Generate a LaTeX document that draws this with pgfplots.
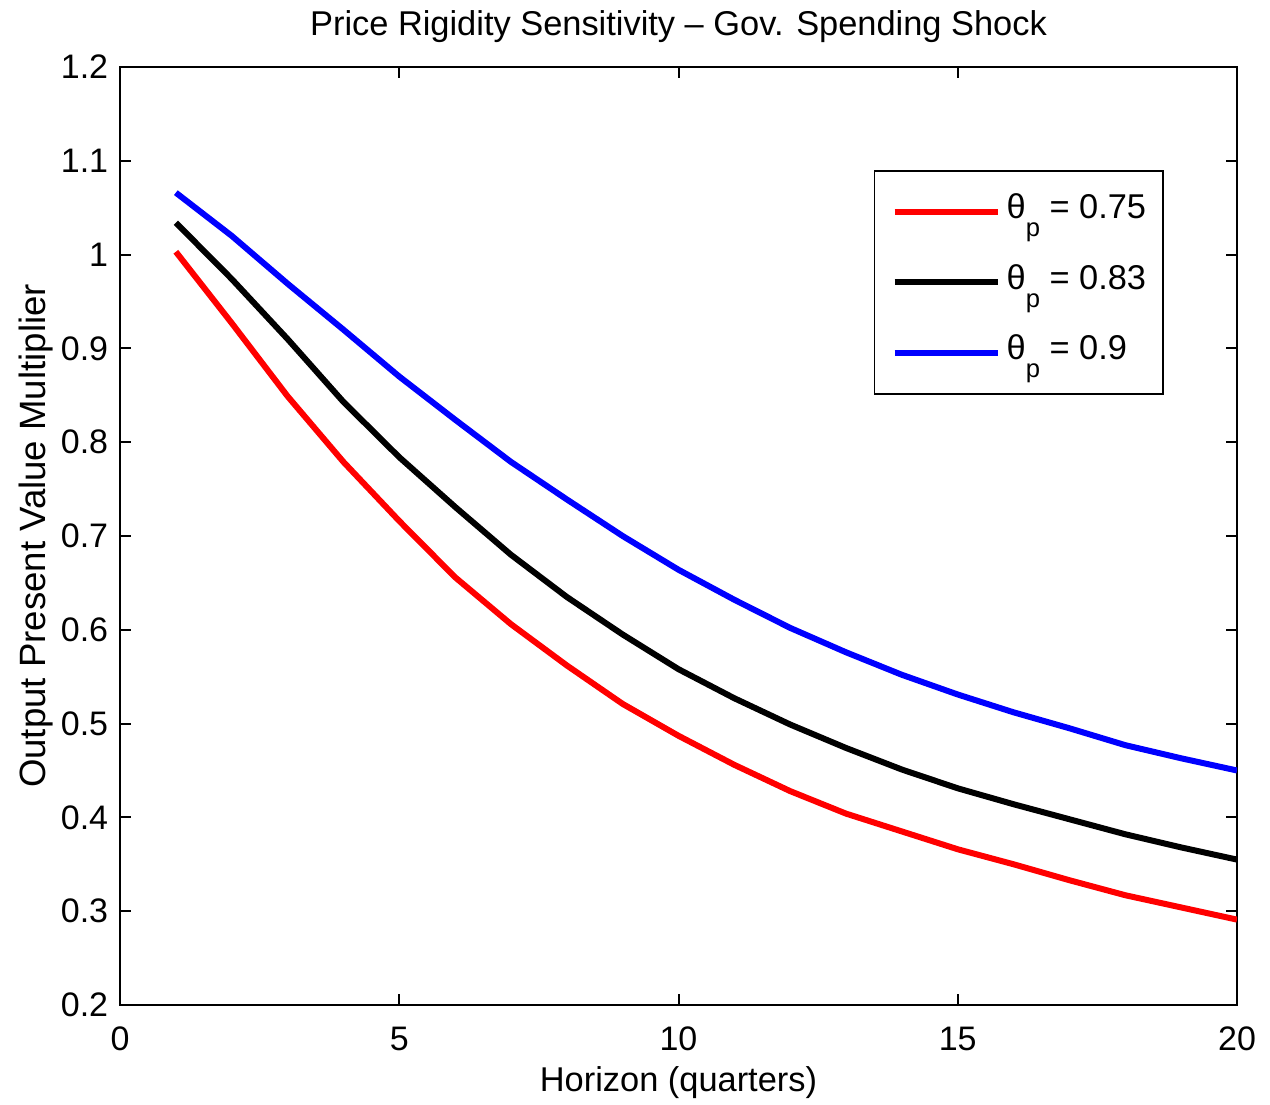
\documentclass[border=0pt]{standalone}
\usepackage{fontspec}
\setmainfont{Liberation Sans}
\usepackage{pgfplots}
\pgfplotsset{compat=1.18}
\usetikzlibrary{calc}

% output present value multiplier by horizon, one series per Calvo parameter
\pgfplotstableread{
h    low    mid    high
1    1.003  1.034  1.066
2    0.927  0.974  1.020
3    0.849  0.910  0.969
4    0.779  0.843  0.920
5    0.716  0.784  0.870
6    0.656  0.731  0.824
7    0.606  0.680  0.779
8    0.562  0.635  0.739
9    0.521  0.595  0.700
10   0.487  0.558  0.664
11   0.456  0.527  0.632
12   0.428  0.499  0.602
13   0.404  0.474  0.576
14   0.385  0.451  0.552
15   0.366  0.431  0.531
16   0.350  0.414  0.512
17   0.333  0.398  0.495
18   0.317  0.382  0.477
19   0.304  0.368  0.463
20   0.291  0.355  0.450
}\multtable

\newcommand{\thp}{θ\raisebox{-8.8pt}{\fontsize{12.8}{14}\selectfont p}}

\begin{document}
\fontsize{17.2}{20}\selectfont
\begin{tikzpicture}
\begin{axis}[
  name=ax,
  scale only axis,
  width=558.5pt, height=469pt,
  xmin=0, xmax=20, ymin=0.2, ymax=1.2,
  xtick={0,5,10,15,20},
  ytick={0.2,0.3,0.4,0.5,0.6,0.7,0.8,0.9,1,1.1,1.2},
  yticklabels={0.2,0.3,0.4,0.5,0.6,0.7,0.8,0.9,1,1.1,1.2},
  tick pos=both,
  tick align=inside,
  major tick length=5.5pt,
  axis line style={line width=1pt},
  every tick/.style={black, line width=1pt},
  /pgf/number format/assume math mode=true,
  ticklabel style={font=\fontsize{17}{20}\selectfont},
  xticklabel style={yshift=-5pt},
  title={Price Rigidity Sensitivity -- Gov. Spending Shock},
  title style={at={(axis description cs:0.5,1)}, anchor=base, yshift=9.5pt, inner sep=0pt,
    font=\fontsize{17.2}{20}\selectfont},
  xlabel={Horizon (quarters)},
  xlabel style={at={(axis description cs:0.5,0)}, anchor=north, yshift=-25pt,
    font=\fontsize{17.2}{20}\selectfont},
  ylabel={Output Present Value Multiplier},
  ylabel style={at={(axis description cs:-0.0671,0.5)}, anchor=base, inner sep=0pt,
    font=\fontsize{18.3}{22}\selectfont},
  legend cell align=left,
  legend image code/.code={\draw[#1, line width=3pt] (0pt,0pt) -- (51.5pt,0pt);},
  legend style={
    at={(rel axis cs:0.9346,0.890)}, anchor=north east,
    draw=black, line width=0.8pt, fill=white,
    inner xsep=8.5pt, inner ysep=12pt,
    row sep=18.25pt, column sep=3pt,
    nodes={inner sep=0pt, text height=12pt, text depth=5pt},
    font=\fontsize{17.2}{20}\selectfont,
  },
]
\addplot[red, line width=3pt] table[x=h, y=low] {\multtable};
\addlegendentry{\thp\ = 0.75}
\addplot[black, line width=3pt] table[x=h, y=mid] {\multtable};
\addlegendentry{\thp\ = 0.83}
\addplot[blue, line width=3pt] table[x=h, y=high] {\multtable};
\addlegendentry{\thp\ = 0.9}
\end{axis}
\pgfresetboundingbox
\path ($(ax.south west)+(-60pt,-50pt)$) rectangle ($(ax.north east)+(16.5pt,33.5pt)$);
\end{tikzpicture}
\end{document}
